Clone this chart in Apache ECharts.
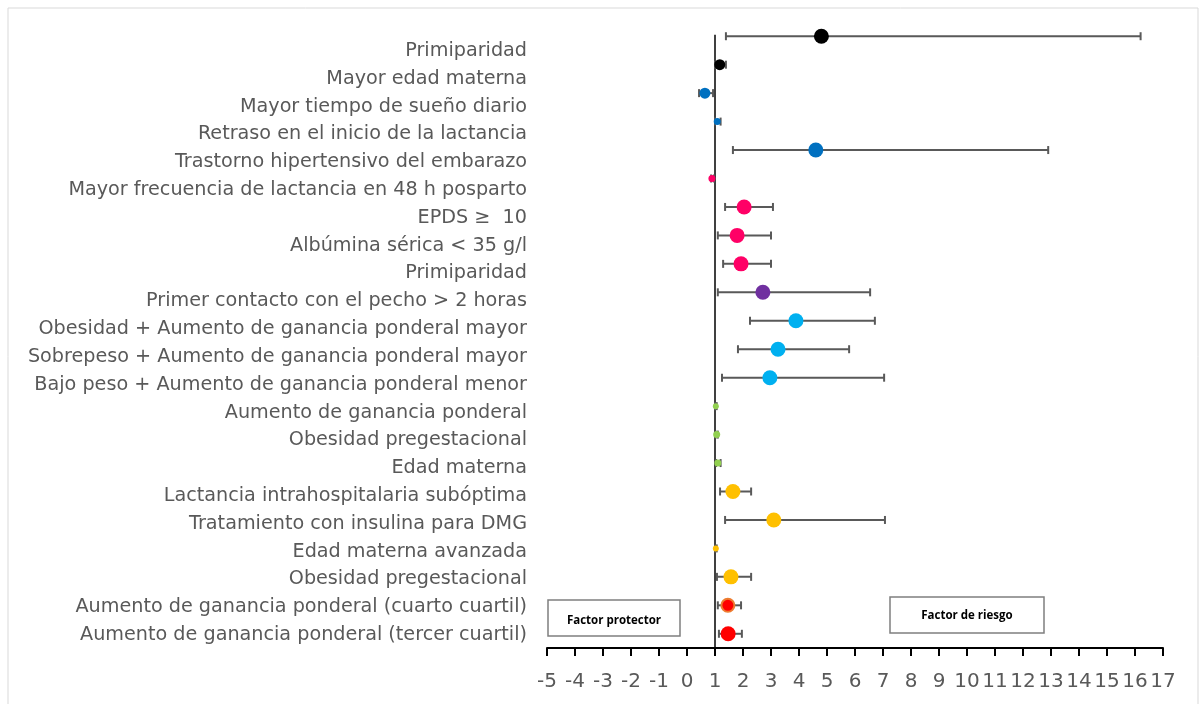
<!DOCTYPE html>
<html>
<head>
<meta charset="utf-8">
<script src="https://cdn.jsdelivr.net/npm/echarts@6/dist/echarts.min.js"></script>
<style>
  html, body { margin: 0; padding: 0; background: #fff; }
  #chart { width: 1202px; height: 704px; }
</style>
</head>
<body>
<div id="chart"></div>
<script>
// Factors (top to bottom) with odds ratio and 95% CI
const factors = [
  'Primiparidad',
  'Mayor edad materna',
  'Mayor tiempo de sueño diario',
  'Retraso en el inicio de la lactancia',
  'Trastorno hipertensivo del embarazo',
  'Mayor frecuencia de lactancia en 48 h posparto',
  'EPDS ≥  10',
  'Albúmina sérica < 35 g/l',
  'Primiparidad',
  'Primer contacto con el pecho > 2 horas',
  'Obesidad + Aumento de ganancia ponderal mayor',
  'Sobrepeso + Aumento de ganancia ponderal mayor',
  'Bajo peso + Aumento de ganancia ponderal menor',
  'Aumento de ganancia ponderal',
  'Obesidad pregestacional',
  'Edad materna',
  'Lactancia intrahospitalaria subóptima',
  'Tratamiento con insulina para DMG',
  'Edad materna avanzada',
  'Obesidad pregestacional',
  'Aumento de ganancia ponderal (cuarto cuartil)',
  'Aumento de ganancia ponderal (tercer cuartil)'
];
const oddsRatio = [4.8, 1.17, 0.64, 1.08, 4.6, 0.89, 2.04, 1.79, 1.93, 2.71, 3.89, 3.25, 2.96,
  1.03, 1.06, 1.1, 1.64, 3.1, 1.03, 1.57, 1.46, 1.47];
const ciLower = [1.39, 1.0, 0.43, 1.0, 1.64, 0.86, 1.36, 1.1, 1.29, 1.1, 2.25, 1.82, 1.25,
  1.0, 1.02, 1.04, 1.18, 1.36, 1.0, 1.07, 1.1, 1.14];
const ciUpper = [16.2, 1.39, 0.93, 1.2, 12.9, 0.96, 3.07, 3.0, 3.0, 6.54, 6.71, 5.79, 7.04,
  1.06, 1.1, 1.2, 2.29, 7.07, 1.06, 2.29, 1.93, 1.96];
const xTicks = { min: -5, max: 17, step: 1 };
const referenceValue = 1;

// Marker styling per row (colour group and marker size)
const markerColors = ['#000000', '#000000', '#0070C0', '#0070C0', '#0070C0', '#FF0066', '#FF0066',
  '#FF0066', '#FF0066', '#7030A0', '#00B0F0', '#00B0F0', '#00B0F0', '#92D050', '#92D050', '#92D050',
  '#FFC000', '#FFC000', '#FFC000', '#FFC000', '#FF0000', '#FF0000'];
const markerSizes = [15, 11, 11, 7, 15, 7, 15, 15, 15, 15, 15, 15, 15, 6, 7, 7, 15, 15, 6, 15, 13, 15];
const markerBorders = { 20: '#ED7D31' };

const labelFont = '"DejaVu Sans", "Open Sans", sans-serif';
const boxFont = '"Open Sans", "Liberation Sans", sans-serif';

const chart = echarts.init(document.getElementById('chart'), null, { renderer: 'canvas' });

const rowIndex = factors.map((_, i) => i);
const pointData = oddsRatio.map((v, i) => ({
  value: [v, i],
  symbolSize: markerSizes[i],
  itemStyle: {
    color: markerColors[i],
    borderColor: markerBorders[i] || markerColors[i],
    borderWidth: markerBorders[i] ? 2 : 0,
    opacity: 1
  }
}));
const ciData = ciLower.map((lo, i) => [lo, ciUpper[i], i]);

// Outlined caption box with centred bold text
function captionBox(x, y, w, h, label, textDy) {
  return [
    {
      type: 'rect', x: x, y: y, z: 5,
      shape: { width: w, height: h },
      style: { fill: '#fff', stroke: '#7f7f7f', lineWidth: 1.5 }
    },
    {
      type: 'text', x: x + w / 2, y: y + h / 2 + textDy, z: 6,
      style: { text: label, font: 'bold 11.5px ' + boxFont, fill: '#000', align: 'center', verticalAlign: 'middle' }
    }
  ];
}

chart.setOption({
  animation: false,
  backgroundColor: '#ffffff',
  grid: [
    // plotting area for the markers
    { left: 547, right: 39, top: 22, height: 626, containLabel: false },
    // label column for the factor names
    { left: 547, right: 39, top: 37, height: 612, containLabel: false }
  ],
  xAxis: [{
    type: 'value',
    gridIndex: 0,
    position: 'bottom',
    min: xTicks.min, max: xTicks.max, interval: xTicks.step,
    splitLine: { show: false },
    axisLine: { show: true, onZero: false, lineStyle: { color: '#000', width: 2 } },
    axisTick: { show: true, inside: false, length: 8, lineStyle: { color: '#000', width: 2 } },
    axisLabel: { color: '#595959', fontSize: 20, fontFamily: labelFont, margin: 24 }
  }, {
    type: 'value',
    gridIndex: 1,
    min: xTicks.min, max: xTicks.max,
    show: false
  }],
  yAxis: [{
    type: 'value',
    gridIndex: 0,
    min: -0.5, max: factors.length - 0.5,
    inverse: true,
    show: false
  }, {
    type: 'category',
    gridIndex: 1,
    data: factors,
    inverse: true,
    axisLine: { show: false },
    axisTick: { show: false },
    splitLine: { show: false },
    axisLabel: { color: '#595959', fontSize: 19.2, fontFamily: labelFont, margin: 20 }
  }],
  series: [
    {
      // reference line at OR = 1
      type: 'line',
      xAxisIndex: 0, yAxisIndex: 0,
      data: [[referenceValue, -0.05], [referenceValue, factors.length - 0.5]],
      symbol: 'none',
      lineStyle: { color: '#000', width: 1.5 },
      silent: true,
      z: 1
    },
    {
      // confidence intervals with end caps
      type: 'custom',
      xAxisIndex: 0, yAxisIndex: 0,
      data: ciData,
      encode: { x: [0, 1], y: 2 },
      renderItem: function (params, api) {
        const y = api.value(2);
        const a = api.coord([api.value(0), y]);
        const b = api.coord([api.value(1), y]);
        const cap = 4;
        const style = { stroke: '#595959', lineWidth: 2 };
        return {
          type: 'group',
          children: [
            { type: 'line', shape: { x1: a[0], y1: a[1], x2: b[0], y2: b[1] }, style: style },
            { type: 'line', shape: { x1: a[0], y1: a[1] - cap, x2: a[0], y2: a[1] + cap }, style: style },
            { type: 'line', shape: { x1: b[0], y1: b[1] - cap, x2: b[0], y2: b[1] + cap }, style: style }
          ]
        };
      },
      z: 2
    },
    {
      type: 'scatter',
      xAxisIndex: 0, yAxisIndex: 0,
      data: pointData,
      symbol: 'circle',
      z: 3
    },
    {
      // anchors the name column to its category axis
      type: 'scatter',
      xAxisIndex: 1, yAxisIndex: 1,
      data: rowIndex.map(i => [xTicks.min, i]),
      symbolSize: 0,
      silent: true
    }
  ],
  graphic: [
    {
      type: 'rect', x: 8, y: 8, z: -1,
      shape: { width: 1190, height: 710 },
      style: { fill: 'none', stroke: '#d9d9d9', lineWidth: 1 }
    }
  ].concat(
    captionBox(548, 600, 132, 36, 'Factor protector', 3),
    captionBox(890, 597, 154, 36, 'Factor de riesgo', 1)
  )
});
</script>
</body>
</html>
